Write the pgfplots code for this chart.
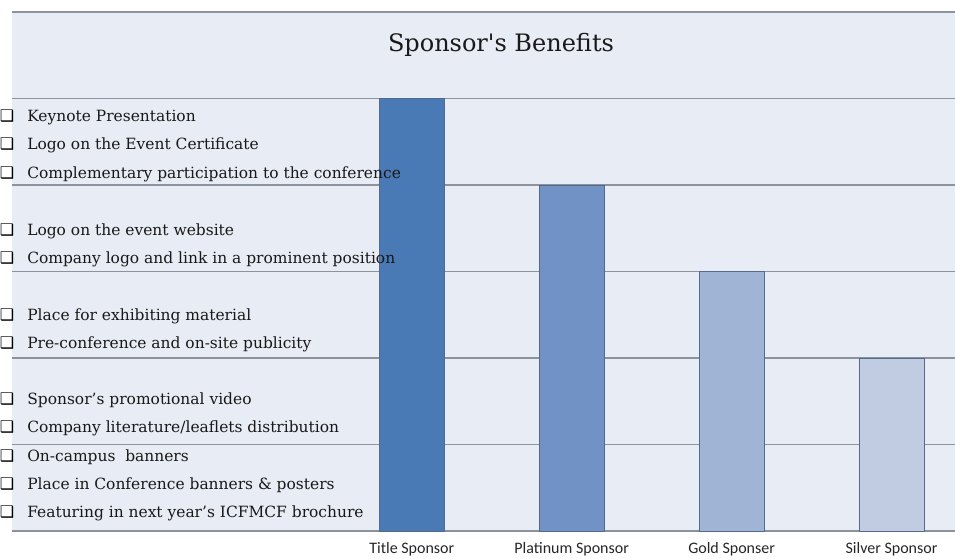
\documentclass[border=0pt]{standalone}
\usepackage{pgfplots}
\pgfplotsset{compat=1.18}
\usepackage{fontspec}
\setmainfont{DejaVu Serif}
\newfontfamily\titlefont{DejaVu Serif}[Ligatures=ResetAll]
\newfontfamily\catfont{Carlito}
\newfontfamily\symfont{DejaVu Sans}
\definecolor{bg}{HTML}{E8ECF4}
\definecolor{gridc}{HTML}{8C939C}
\definecolor{edgec}{HTML}{55698A}
\definecolor{cA}{HTML}{4A7AB5}
\definecolor{cB}{HTML}{7192C4}
\definecolor{cC}{HTML}{A0B4D5}
\definecolor{cD}{HTML}{C1CCE2}
\begin{document}
\begin{tikzpicture}
\path[use as bounding box] (0pt,0pt) rectangle (716.25pt,418.5pt);
\begin{axis}[
  at={(9pt,20.25pt)}, anchor=south west,
  scale only axis, width=707.25pt, height=389.25pt,
  xmin=-2.5, xmax=3.397, ymin=0, ymax=6,
  axis background/.style={fill=bg},
  axis line style={draw=none},
  ytick={0,...,6}, yticklabels={},
  ymajorgrids, grid style={draw=gridc, line width=0.9pt},
  major tick length=0pt,
  xtick={0,1,2,3},
  xticklabels={Title Sponsor,Platinum Sponsor,Gold Sponser,Silver Sponsor},
  xticklabel style={font=\catfont\fontsize{12}{14}\selectfont, text=black!85, yshift=-5pt},
  ybar, bar width=48.75pt,
  clip=false,
]
\addplot[fill=cA, draw=edgec, bar shift=0pt] coordinates {(0,5)};
\addplot[fill=cB, draw=edgec, bar shift=0pt] coordinates {(1,4)};
\addplot[fill=cC, draw=edgec, bar shift=0pt] coordinates {(2,3)};
\addplot[fill=cD, draw=edgec, bar shift=0pt] coordinates {(3,2)};
\end{axis}
\begin{scope}[x=0.75pt,y=0.75pt]
\node[anchor=base, inner sep=0pt, font=\titlefont\fontsize{18}{20}\selectfont, text=black!90] at (501,506) {Sponsor's Benefits};
\foreach \yy/\txt in {
  122/{Keynote Presentation},
  149/{Logo on the Event Certificate},
  178/{Complementary participation to the conference},
  235/{Logo on the event website},
  263/{Company logo and link in a prominent position},
  320/{Place for exhibiting material},
  348/{Pre-conference and on-site publicity},
  404/{Sponsor’s promotional video},
  432/{Company literature/leaflets distribution},
  461/{On-campus\ \ banners},
  489/{Place in Conference banners \& posters},
  517/{Featuring in next year’s ICFMCF brochure}}{
  \node[anchor=base west, inner sep=0pt, font=\fontsize{11.6}{14}\selectfont, text=black!90] at (27,558-\yy) {\txt};
  \node[anchor=base west, inner sep=0pt, font=\symfont\fontsize{12}{12}\selectfont] at (-0.5,558-\yy) {❑};
}
\end{scope}
\end{tikzpicture}
\end{document}
